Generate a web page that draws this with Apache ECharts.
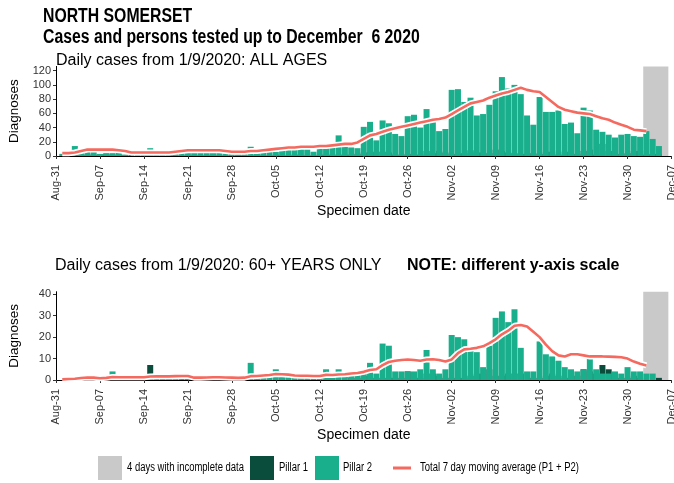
<!DOCTYPE html>
<html>
<head>
<meta charset="utf-8">
<script src="https://cdn.jsdelivr.net/npm/echarts@6/dist/echarts.min.js"></script>
<style>
  html, body { margin: 0; padding: 0; background: #fff; }
  #chart { width: 674px; height: 483px; }
</style>
</head>
<body>
<div id="chart"></div>
<script>
// Week ticks on the date axis (day offsets 0, 7, ... 98 from 31 August)
const tickLabels = ['Aug-31', 'Sep-07', 'Sep-14', 'Sep-21', 'Sep-28', 'Oct-05', 'Oct-12',
  'Oct-19', 'Oct-26', 'Nov-02', 'Nov-09', 'Nov-16', 'Nov-23', 'Nov-30', 'Dec-07'];

// Daily series start on 1 September = day offset 1
const firstDay = 1;

// All ages: daily cases by pillar, 1 Sep .. 6 Dec
const allPillar1 = [
  0, 0, 1, 1, 2, 2, 2, 3, 2, 2,
  1, 0, 0, 1, 1, 1, 0, 1, 1, 1,
  1, 1, 1, 1, 0, 1, 1, 0, 1, 1,
  1, 1, 1, 1, 2, 1, 1, 2, 1, 1,
  1, 2, 2, 2, 2, 2, 2, 3, 5, 6,
  6, 6, 5, 2, 2, 3, 3, 2, 7, 4,
  7, 5, 3, 3, 4, 8, 5, 5, 4, 9,
  7, 5, 4, 3, 3, 4, 3, 6, 6, 2,
  6, 4, 3, 7, 9, 2, 17, 7, 4, 3,
  4, 7, 7, 2, 3, 3, 0];
const allPillar2 = [
  3, 4, 14, 5, 9, 9, 3, 4, 4, 6,
  2, 2, 3, 4, 11, 5, 4, 3, 6, 5,
  9, 6, 5, 7, 6, 6, 4, 4, 4, 5,
  13, 4, 5, 6, 6, 8, 9, 9, 11, 13,
  6, 12, 13, 14, 29, 13, 12, 11, 41, 48,
  22, 50, 46, 31, 28, 56, 58, 40, 66, 54,
  35, 38, 93, 94, 76, 82, 57, 59, 72, 91,
  111, 95, 100, 87, 57, 44, 83, 62, 62, 64,
  45, 47, 32, 68, 64, 37, 34, 30, 26, 30,
  31, 28, 27, 35, 24, 14, 0];
// All ages: total 7 day moving average, 1 Sep .. 3 Dec
const allAverage = [
  4, 4, 5, 7, 9, 9, 9, 9, 9, 8,
  7, 5, 5, 5, 5, 5, 5, 5, 6, 7,
  8, 8, 8, 8, 8, 8, 7, 6, 6, 6,
  7, 7, 8, 9, 10, 11, 12, 12, 13, 13,
  13, 14, 14, 15, 16, 17, 17, 19, 24, 29,
  31, 34, 37, 39, 41, 43, 45, 47, 49, 51,
  52, 54, 59, 64, 69, 74, 76, 78, 82, 85,
  88, 90, 93, 96, 93, 91, 90, 83, 76, 69,
  65, 63, 61, 60, 59, 56, 53, 51, 47, 44,
  41, 37, 36, 35];

// 60+ years: daily cases by pillar, 1 Sep .. 6 Dec
const oldPillar1 = [
  0, 0, 0, 0, 0, 0, 0, 2, 0, 0,
  0, 0, 0, 0, 7, 0, 0, 0, 0, 0,
  1, 0, 0, 0, 0, 0, 0, 0, 0, 0,
  0, 0, 0, 0, 0, 1, 0, 0, 0, 0,
  0, 0, 0, 1, 0, 0, 1, 1, 2, 2,
  1, 1, 1, 1, 1, 4, 1, 1, 3, 3,
  2, 1, 1, 1, 1, 2, 3, 3, 5, 2,
  2, 3, 3, 3, 0, 1, 1, 2, 3, 2,
  1, 4, 2, 5, 4, 3, 7, 5, 3, 1,
  1, 2, 1, 0, 0, 1, 0];
const oldPillar2 = [
  0, 1, 0, 1, 2, 1, 0, 2, 4, 1,
  1, 2, 1, 1, 2, 1, 2, 1, 2, 2,
  2, 0, 1, 1, 2, 1, 1, 1, 1, 2,
  8, 1, 2, 2, 5, 2, 2, 2, 2, 2,
  1, 2, 5, 1, 5, 2, 2, 3, 4, 8,
  3, 17, 16, 4, 4, 4, 4, 5, 14, 5,
  3, 5, 21, 20, 19, 15, 13, 6, 16, 29,
  32, 27, 33, 15, 4, 4, 18, 12, 11, 9,
  6, 5, 4, 5, 12, 5, 3, 3, 4, 3,
  6, 4, 4, 3, 3, 0, 0];
// 60+ years: total 7 day moving average, 1 Sep .. 3 Dec
const oldAverage = [
  0.3, 0.5, 0.6, 0.9, 1.2, 1.1, 0.8, 1.0, 1.4, 1.3,
  1.3, 1.3, 1.3, 1.3, 1.6, 1.7, 1.7, 1.7, 1.8, 1.9,
  1.9, 1.1, 1.1, 1.2, 1.3, 1.3, 1.2, 1.1, 1.0, 1.1,
  1.8, 1.9, 2.1, 2.3, 2.8, 2.7, 2.5, 2.1, 2.0, 2.0,
  1.9, 1.9, 2.4, 2.3, 2.6, 2.7, 3.0, 3.3, 3.8, 4.7,
  5.0, 6.9, 8.4, 9.0, 9.3, 9.6, 9.3, 9.0, 9.6, 9.7,
  9.3, 8.6, 9.6, 12.5, 14.3, 14.6, 15.0, 15.7, 17.2, 19.0,
  21.3, 23.0, 25.3, 25.7, 25.0, 22.5, 20.0, 16.5, 13.5, 11.5,
  11.0, 12.0, 12.0, 11.5, 11.0, 11.0, 11.0, 10.9, 10.8, 10.6,
  10.0, 8.6, 7.6, 6.8];

// Last four days (3-6 Dec) with incomplete data, as day offsets
const incompleteDays = [94, 97];

const yTicksAll = [0, 20, 40, 60, 80, 100, 120];
const yTicksOld = [0, 10, 20, 30, 40];

const NAME_GAP = '4 days with incomplete data';
const NAME_P1 = 'Pillar 1';
const NAME_P2 = 'Pillar 2';
const NAME_AVG = 'Total 7 day moving average (P1 + P2)';

const FONT = '"Liberation Sans", Arial, sans-serif';
const DARK = '#0b4d3d';
const GREEN = '#1aaf8c';
const GREY = '#c9c9c9';
const RED = '#f5695f';

const pairs = arr => arr.map((v, i) => [i + firstDay, v]);

function xAxisFor(gridIndex) {
  return {
    type: 'value', gridIndex, min: 0, max: 98, interval: 7,
    axisLine: { show: true, onZero: false, lineStyle: { color: '#000', width: 1 } },
    axisTick: { show: true, length: 3, lineStyle: { color: '#333' } },
    axisLabel: {
      rotate: 90, fontSize: 11, color: '#333', margin: 9, fontFamily: FONT,
      formatter: v => tickLabels[Math.round(v / 7)] || ''
    },
    splitLine: { show: false },
    name: 'Specimen date', nameLocation: 'middle', nameGap: 48,
    nameTextStyle: { fontSize: 14, color: '#000', fontFamily: FONT }
  };
}

function yAxisFor(gridIndex, max, ticks) {
  return {
    type: 'value', gridIndex, min: 0, max,
    axisLine: { show: true, lineStyle: { color: '#000', width: 1 } },
    axisTick: { show: true, length: 3, customValues: ticks, lineStyle: { color: '#333' } },
    axisLabel: { customValues: ticks, fontSize: 11, color: '#333', margin: 5, fontFamily: FONT },
    splitLine: { show: false },
    name: 'Diagnoses', nameLocation: 'middle', nameGap: 35,
    nameTextStyle: { fontSize: 13.5, color: '#000', fontFamily: FONT }
  };
}

function panelSeries(axisIndex, stackName, p1, p2, avg) {
  const ax = { xAxisIndex: axisIndex, yAxisIndex: axisIndex };
  return [
    Object.assign({
      type: 'line', name: NAME_GAP, data: [], z: 1, silent: true,
      itemStyle: { color: GREY },
      markArea: {
        silent: true, itemStyle: { color: GREY, opacity: 1 },
        data: [[{ xAxis: incompleteDays[0] - 0.5 }, { xAxis: incompleteDays[1] + 0.5 }]]
      }
    }, ax),
    Object.assign({
      type: 'bar', name: NAME_P1, stack: stackName, data: pairs(p1), barWidth: 6,
      itemStyle: { color: DARK }, z: 2
    }, ax),
    Object.assign({
      type: 'bar', name: NAME_P2, stack: stackName, data: pairs(p2), barWidth: 6,
      itemStyle: { color: GREEN }, z: 2
    }, ax),
    Object.assign({
      type: 'line', name: 'avgHalo' + axisIndex, data: pairs(avg), symbol: 'none',
      lineStyle: { color: '#fff', width: 6 }, z: 3, silent: true
    }, ax),
    Object.assign({
      type: 'line', name: NAME_AVG, data: pairs(avg), symbol: 'none',
      lineStyle: { color: RED, width: 2.6 }, itemStyle: { color: RED }, z: 4
    }, ax)
  ];
}

// Legend keys: icons come from the legend component, captions are
// condensed text placed beside each key
function legendKey(left, name, icon, w) {
  return {
    left, top: 456, itemWidth: w, itemHeight: 24, itemGap: 0, padding: 0,
    selectedMode: false, formatter: () => '',
    data: [{ name, icon }]
  };
}
function legendCaption(x, text) {
  return {
    type: 'text', x, y: 468, scaleX: 0.79,
    style: { text, fontSize: 12, fontFamily: FONT, fill: '#000', verticalAlign: 'middle' }
  };
}

const chart = echarts.init(document.getElementById('chart'), null, { renderer: 'canvas' });
chart.setOption({
  animation: false,
  backgroundColor: '#fff',
  textStyle: { fontFamily: FONT },
  grid: [
    { left: 56, right: 2.5, top: 66.4, height: 89.6, outerBoundsMode: 'none' },
    { left: 56, right: 2.5, top: 291.7, height: 88.3, outerBoundsMode: 'none' }
  ],
  xAxis: [xAxisFor(0), xAxisFor(1)],
  yAxis: [yAxisFor(0, 126, yTicksAll), yAxisFor(1, 41.2, yTicksOld)],
  legend: [
    legendKey(98, NAME_GAP, 'rect', 24),
    legendKey(250, NAME_P1, 'rect', 24),
    legendKey(315, NAME_P2, 'rect', 24),
    legendKey(393, NAME_AVG, 'path://M0,0L18,0L18,3L0,3Z', 18)
  ],
  graphic: [
    { type: 'text', x: 43, y: 6, scaleX: 0.79,
      style: { text: 'NORTH SOMERSET', fontSize: 20, fontWeight: 'bold', fontFamily: FONT, fill: '#000', verticalAlign: 'top' } },
    { type: 'text', x: 43, y: 27, scaleX: 0.79,
      style: { text: 'Cases and persons tested up to December  6 2020', fontSize: 20, fontWeight: 'bold', fontFamily: FONT, fill: '#000', verticalAlign: 'top' } },
    { type: 'text', x: 56, y: 60.5,
      style: { text: 'Daily cases from 1/9/2020: ALL AGES', fontSize: 16, fontFamily: FONT, fill: '#000', verticalAlign: 'middle' } },
    { type: 'text', x: 55, y: 266,
      style: { text: 'Daily cases from 1/9/2020: 60+ YEARS ONLY', fontSize: 16, fontFamily: FONT, fill: '#000', verticalAlign: 'middle' } },
    { type: 'text', x: 407, y: 266,
      style: { text: 'NOTE: different y-axis scale', fontSize: 16, fontWeight: 'bold', fontFamily: FONT, fill: '#000', verticalAlign: 'middle' } },
    legendCaption(127, NAME_GAP),
    legendCaption(279, NAME_P1),
    legendCaption(343, NAME_P2),
    legendCaption(420, NAME_AVG)
  ],
  series: [
    ...panelSeries(0, 'allAges', allPillar1, allPillar2, allAverage),
    ...panelSeries(1, 'sixtyPlus', oldPillar1, oldPillar2, oldAverage)
  ]
});
</script>
</body>
</html>
